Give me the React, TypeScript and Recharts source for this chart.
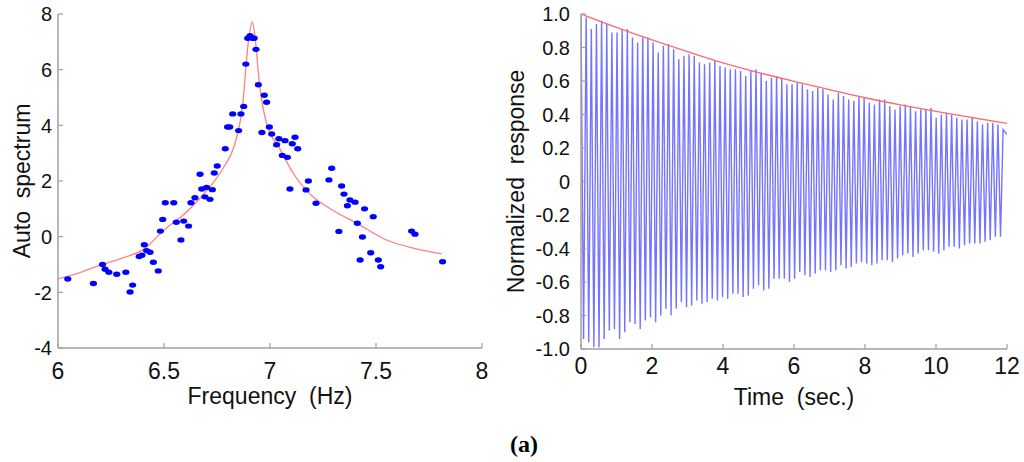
import React from 'react';
import { ComposedChart, LineChart, Scatter, Line, XAxis, YAxis } from 'recharts';

// ---------- Left panel: auto spectrum ----------
const freqPoints = [
  6.046, 6.167, 6.21, 6.222, 6.24, 6.277, 6.32, 6.34, 6.352, 6.383, 6.396, 6.407, 6.418, 6.434, 6.45, 6.473,
  6.483, 6.494, 6.506, 6.546, 6.558, 6.58, 6.593, 6.616, 6.627, 6.646, 6.678, 6.693, 6.701, 6.717, 6.728, 6.67,
  6.737, 6.751, 6.789, 6.852, 6.8, 6.81, 6.824, 6.863, 6.876, 6.886, 6.895, 6.906, 6.918, 6.925, 6.934, 6.945,
  6.973, 6.984, 6.997, 6.962, 7.008, 7.042, 7.071, 7.118, 7.031, 7.105, 7.131, 7.058, 7.082, 7.291, 7.278, 7.181,
  7.094, 7.17, 7.338, 7.349, 7.217, 7.377, 7.401, 7.365, 7.446, 7.487, 7.412, 7.325, 7.436, 7.475, 7.425, 7.511,
  7.522, 7.668, 7.684, 7.814,
];
const specPoints = [
  -1.52, -1.68, -1.0, -1.17, -1.28, -1.35, -1.28, -1.99, -1.74, -0.71, -0.67, -0.29, -0.5, -0.56, -0.92, -1.23,
  0.2, 0.62, 1.22, 1.22, 0.52, -0.12, 0.56, 0.38, 1.22, 1.4, 1.71, 1.43, 1.77, 1.34, 1.69, 2.24,
  2.29, 2.54, 3.16, 3.81, 3.94, 3.94, 4.41, 4.41, 4.68, 6.2, 7.13, 7.22, 7.13, 7.13, 6.73, 5.46,
  5.08, 4.83, 3.94, 3.74, 3.69, 3.52, 3.45, 3.57, 3.3, 3.34, 3.16, 2.92, 2.85, 2.46, 2.04, 2.0,
  1.71, 1.68, 1.82, 1.53, 1.2, 1.32, 1.24, 1.11, 1.0, 0.72, 0.48, 0.19, -0.01, -0.58, -0.84, -0.84,
  -1.08, 0.2, 0.09, -0.9,
];
const fitFreq = [6.0, 6.1, 6.2, 6.3, 6.41, 6.5, 6.6, 6.67, 6.73, 6.79, 6.83, 6.87, 6.9, 6.917, 6.93, 6.95, 6.98, 7.05, 7.11, 7.2, 7.28, 7.41, 7.55, 7.68, 7.81];
const fitSpec = [-1.52, -1.3, -1.02, -0.78, -0.42, 0.24, 0.84, 1.38, 1.92, 2.6, 3.23, 4.67, 7.13, 7.72, 7.13, 5.51, 4.19, 3.11, 2.27, 1.45, 1.02, 0.48, -0.12, -0.42, -0.62];
const freqTicks = [6, 6.5, 7, 7.5, 8];
const specTicks = [-4, -2, 0, 2, 4, 6, 8];

// ---------- Right panel: normalized response ----------
const cyclePeriod = 0.145; // seconds per oscillation cycle
const upperPeaks = [
  0.99, 0.98, 0.91, 0.94, 0.96, 0.94, 0.89, 0.89, 0.91, 0.91, 0.86, 0.83, 0.86, 0.86, 0.83, 0.77,
  0.81, 0.82, 0.79, 0.73, 0.75, 0.76, 0.75, 0.71, 0.7, 0.71, 0.72, 0.69, 0.68, 0.67, 0.67, 0.66,
  0.63, 0.66, 0.67, 0.65, 0.6, 0.62, 0.63, 0.62, 0.58, 0.58, 0.59, 0.58, 0.55, 0.54, 0.56, 0.55,
  0.52, 0.49, 0.53, 0.51, 0.49, 0.48, 0.51, 0.5, 0.47, 0.46, 0.49, 0.49, 0.45, 0.43, 0.45, 0.46,
  0.45, 0.42, 0.43, 0.43, 0.44, 0.38, 0.4, 0.41, 0.4, 0.38, 0.37, 0.37, 0.38, 0.36, 0.34, 0.35,
  0.35, 0.34, 0.31,
];
const lowerPeaks = [
  -0.94, -0.96, -0.99, -0.99, -0.94, -0.89, -0.88, -0.94, -0.9, -0.84, -0.85, -0.88, -0.83, -0.81, -0.84, -0.8,
  -0.76, -0.8, -0.76, -0.72, -0.75, -0.74, -0.71, -0.73, -0.72, -0.7, -0.71, -0.69, -0.7, -0.67, -0.67,
  -0.69, -0.68, -0.64, -0.62, -0.65, -0.64, -0.58, -0.58, -0.58, -0.6, -0.58, -0.54, -0.56, -0.57, -0.55, -0.53,
  -0.53, -0.54, -0.53, -0.5, -0.52, -0.51, -0.49, -0.48, -0.49, -0.5, -0.49, -0.47, -0.47, -0.48, -0.46, -0.44,
  -0.43, -0.45, -0.43, -0.41, -0.41, -0.42, -0.43, -0.41, -0.39, -0.39, -0.4, -0.38, -0.37, -0.37, -0.37, -0.36,
  -0.35, -0.33, -0.33,
];
const endTime = 12;
const endValue = 0.28;
const envTime = [0, 1, 2, 3, 4, 5, 6, 7, 8, 9, 10, 11, 12];
const envValue = [1.0, 0.92, 0.845, 0.775, 0.708, 0.65, 0.598, 0.548, 0.5, 0.457, 0.418, 0.382, 0.347];
const timeTicks = [0, 2, 4, 6, 8, 10, 12];
const respTicks = [-1, -0.8, -0.6, -0.4, -0.2, 0, 0.2, 0.4, 0.6, 0.8, 1];

const scatterData = freqPoints.map((x, i) => ({ x, y: specPoints[i] }));
const fitData = fitFreq.map((x, i) => ({ x, y: fitSpec[i] }));

const waveData: { t: number; v: number }[] = [];
upperPeaks.forEach((p, i) => {
  waveData.push({ t: i * cyclePeriod, v: p });
  if (i < lowerPeaks.length) waveData.push({ t: (i + 0.5) * cyclePeriod, v: lowerPeaks[i] });
});
waveData.push({ t: endTime, v: endValue });
const envData = envTime.map((t, i) => ({ t, v: envValue[i] }));

const FONT = '"Liberation Sans", Arial, Helvetica, sans-serif';
const AXIS_COLOR = '#a0a0a0';
const TEXT_COLOR = '#111';

const Dot = (props: any) => {
  const { cx, cy } = props;
  if (cx == null || cy == null) return null;
  return <ellipse cx={cx} cy={cy} rx={3.6} ry={2.7} fill="#0000ff" />;
};

const fmtResp = (v: number) => (v === 0 ? '0' : v.toFixed(1));

const makeBottomTick = (fmt: (v: number) => string) => (props: any) => {
  const { x, y, payload } = props;
  return (
    <text x={x} y={y} dy="0.72em" textAnchor="middle" fontSize={23} fill={TEXT_COLOR} fontFamily={FONT}>
      {fmt(payload.value)}
    </text>
  );
};
const makeLeftTick = (fmt: (v: number) => string) => (props: any) => {
  const { x, y, payload } = props;
  return (
    <text x={x} y={y} dy="0.36em" textAnchor="end" fontSize={20} fill={TEXT_COLOR} fontFamily={FONT}>
      {fmt(payload.value)}
    </text>
  );
};
const plain = (v: number) => String(v);

const titleStyle = { fontSize: 23, fill: TEXT_COLOR, fontFamily: FONT, textAnchor: 'middle' as const };
const axisLine = { stroke: AXIS_COLOR, strokeWidth: 1.5 };
const tickLine = { stroke: AXIS_COLOR, strokeWidth: 1.2 };
const blank = () => '';

export default function App() {
  return (
    <div style={{ position: 'absolute', left: 0, top: 0, width: 1024, height: 462, background: '#fff', fontFamily: FONT }}>
      <div style={{ position: 'absolute', left: 0, top: 0 }}>
        <ComposedChart width={500} height={420} margin={{ top: 14, right: 18, bottom: 0, left: 0 }}>
          <XAxis
            xAxisId="b"
            dataKey="x"
            type="number"
            domain={[6, 8]}
            ticks={freqTicks}
            allowDataOverflow
            height={72}
            tickSize={-5}
            tickMargin={19}
            tick={makeBottomTick(plain)}
            axisLine={axisLine}
            tickLine={tickLine}
            label={{ value: 'Frequency\u00A0 (Hz)', position: 'insideBottom', offset: 16, style: titleStyle }}
          />
          <XAxis
            xAxisId="t"
            orientation="top"
            dataKey="x"
            type="number"
            domain={[6, 8]}
            ticks={freqTicks}
            allowDataOverflow
            height={0}
            tickSize={-5}
            tickFormatter={blank}
            axisLine={axisLine}
            tickLine={tickLine}
          />
          <YAxis
            yAxisId="l"
            dataKey="y"
            type="number"
            domain={[-4, 8]}
            ticks={specTicks}
            allowDataOverflow
            width={58}
            tickSize={-5}
            tickMargin={11}
            tick={makeLeftTick(plain)}
            axisLine={axisLine}
            tickLine={tickLine}
            label={{ value: 'Auto\u00A0 spectrum', angle: -90, position: 'insideLeft', offset: 22, style: titleStyle }}
          />
          <YAxis
            yAxisId="r"
            orientation="right"
            type="number"
            domain={[-4, 8]}
            ticks={specTicks}
            allowDataOverflow
            width={0}
            tickSize={-5}
            tickFormatter={blank}
            axisLine={axisLine}
            tickLine={tickLine}
          />
          <Line
            xAxisId="b"
            yAxisId="l"
            data={fitData}
            dataKey="y"
            type="monotone"
            stroke="#ff8080"
            strokeWidth={1.3}
            dot={false}
            isAnimationActive={false}
          />
          <Scatter
            xAxisId="b"
            yAxisId="l"
            data={scatterData}
            dataKey="y"
            shape={Dot}
            isAnimationActive={false}
          />
        </ComposedChart>
      </div>

      <div style={{ position: 'absolute', left: 500, top: 0 }}>
        <LineChart width={524} height={420} margin={{ top: 14, right: 17, bottom: 0, left: 0 }}>
          <XAxis
            xAxisId="b"
            dataKey="t"
            type="number"
            domain={[0, 12]}
            ticks={timeTicks}
            allowDataOverflow
            height={71}
            tickSize={-5}
            tickMargin={13}
            tick={makeBottomTick(plain)}
            axisLine={axisLine}
            tickLine={tickLine}
            label={{ value: 'Time\u00A0 (sec.)', position: 'insideBottom', offset: 15, style: titleStyle }}
          />
          <XAxis
            xAxisId="t"
            orientation="top"
            dataKey="t"
            type="number"
            domain={[0, 12]}
            ticks={timeTicks}
            allowDataOverflow
            height={0}
            tickSize={-5}
            tickFormatter={blank}
            axisLine={axisLine}
            tickLine={tickLine}
          />
          <YAxis
            yAxisId="l"
            type="number"
            domain={[-1, 1]}
            ticks={respTicks}
            allowDataOverflow
            width={81}
            tickSize={-5}
            tickMargin={16}
            tick={makeLeftTick(fmtResp)}
            axisLine={axisLine}
            tickLine={tickLine}
            label={{ value: 'Normalized\u00A0 response', angle: -90, position: 'insideLeft', offset: 16, style: titleStyle }}
          />
          <YAxis
            yAxisId="r"
            orientation="right"
            type="number"
            domain={[-1, 1]}
            ticks={respTicks}
            allowDataOverflow
            width={0}
            tickSize={-5}
            tickFormatter={blank}
            axisLine={axisLine}
            tickLine={tickLine}
          />
          <Line
            xAxisId="b"
            yAxisId="l"
            data={waveData}
            dataKey="v"
            type="linear"
            stroke="#4545ff"
            strokeWidth={1.4}
            strokeOpacity={0.75}
            dot={false}
            isAnimationActive={false}
          />
          <Line
            xAxisId="b"
            yAxisId="l"
            data={envData}
            dataKey="v"
            type="monotone"
            stroke="#ff6a6a"
            strokeWidth={1.3}
            dot={false}
            isAnimationActive={false}
          />
        </LineChart>
      </div>

      <div
        style={{
          position: 'absolute',
          left: 474,
          top: 432,
          width: 100,
          textAlign: 'center',
          fontFamily: '"Liberation Serif", "Times New Roman", serif',
          fontWeight: 'bold',
          fontSize: 24,
          lineHeight: '24px',
          color: '#000',
        }}
      >
        (a)
      </div>
    </div>
  );
}
